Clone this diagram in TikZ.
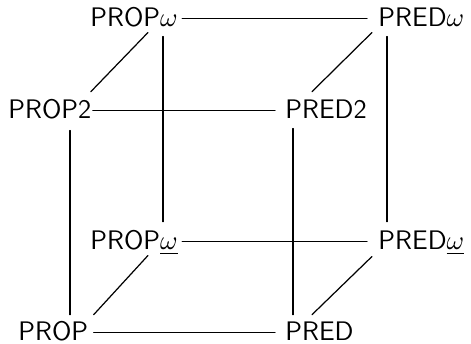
\documentclass[tikz,border=0pt]{standalone}
\begin{document}
\begin{tikzpicture}[x=0.41pt, y=-0.41pt, line join=round, line cap=round,
  sys/.style={font=\fontsize{11}{13}\selectfont\sffamily, inner sep=0pt, anchor=base west, text height=7.1pt, text depth=0pt},
  edge/.style={line width=0.5pt}]
\useasboundingbox (0,0) rectangle (471,344);
% Systeme
\node[sys] (propw) at (90,27) {PROP$\omega$};
\node[sys] (predw) at (378,27) {PRED$\omega$};
\node[sys] (prop2) at (8,119) {PROP2};
\node[sys] (pred2) at (285,119) {PRED2};
\node[sys] (propu) at (90,250) {PROP$\underline{\omega}$};
\node[sys] (predu) at (378,250) {PRED$\underline{\omega}$};
\node[sys] (prop) at (18,341) {PROP};
\node[sys] (pred) at (285,341) {PRED};

% Waagrechte Kanten
\draw[edge] ([shift={(4,0)}]propw.east) -- ([shift={(-11,0)}]predw.west);
\draw[edge] ([shift={(1,0)}]prop2.east) -- ([shift={(-10,0)}]pred2.west);
\draw[edge] ([shift={(4,0)}]propu.east) -- ([shift={(-11,0)}]predu.west);
\draw[edge] ([shift={(5,0)}]prop.east) -- ([shift={(-10,0)}]pred.west);

% Senkrechte Kanten
\draw[edge] ([shift={(73,9)}]propw.south west) -- ([shift={(73,-10.5)}]propu.north west);
\draw[edge] ([shift={(62,11)}]prop2.south west) -- ([shift={(52,-8.5)}]prop.north west);
\draw[edge] ([shift={(9,9)}]predw.south west) -- ([shift={(9,-10.5)}]predu.north west);
\draw[edge] ([shift={(8,9)}]pred2.south west) -- ([shift={(8,-8.5)}]pred.north west);

% Schraege Kanten
\draw[edge] ([shift={(-1,-9.5)}]prop2.north east) -- ([shift={(58,5)}]propw.south west);
\draw[edge] ([shift={(27,-9.5)}]pred2.north west) -- ([shift={(-6,5)}]predw.south west);
\draw[edge] ([shift={(5,-8.5)}]prop.north east) -- ([shift={(58,5)}]propu.south west);
\draw[edge] ([shift={(27,-8.5)}]pred.north west) -- ([shift={(-6,6)}]predu.south west);
\end{tikzpicture}
\end{document}
